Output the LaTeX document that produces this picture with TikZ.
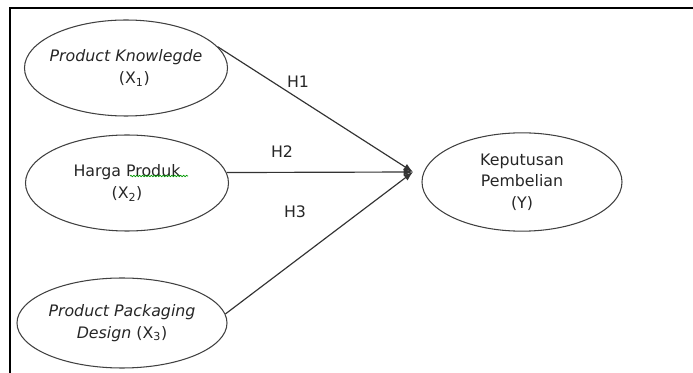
\documentclass[tikz,border=0pt]{standalone}
\usepackage{fontspec}
\setmainfont{DejaVu Sans}
\usepackage{tikz}
\usetikzlibrary{arrows.meta, positioning, shapes.geometric, decorations.pathmorphing}

\begin{document}
\begin{tikzpicture}[
    x=0.03cm, y=-0.03cm,
    every node/.style={font=\fontsize{13.5}{18.5}\selectfont, text=black!85},
    var/.style={draw=black!75, line width=0.9pt, ellipse, inner xsep=-0.5cm, inner ysep=0pt, minimum width=6.09cm, minimum height=2.88cm, align=center},
    path/.style={-{Latex[length=8pt, width=6pt]}, line width=1pt, black!80},
    hyp/.style={font=\fontsize{13.5}{16}\selectfont},
]
\useasboundingbox (0,0) rectangle (693,373);

% === Frame ===
\draw[line width=1.8pt] (693,8) -- (10,8) -- (10,373);

% === Independent variables ===
\node[var] (e1) at (126,68) {\textit{Product Knowlegde}\\\hspace*{0.5cm}(X\textsubscript{1})};
\node[var] (e2) at (127,183) {Harga Produk\\(X\textsubscript{2})};
\node[var, minimum width=6.3cm, minimum height=2.7cm] (e3) at (122,323) {\textit{Product Packaging}\\\textit{Design} (X\textsubscript{3})};

% === Dependent variable ===
\node[var, minimum width=6.0cm, minimum height=2.95cm] (ey) at (522,182) {Keputusan\\Pembelian\\(Y)};
\coordinate (j) at (413,172);

% === Paths ===
\draw[path] (e1.13) -- (j);
\draw[path] (e2.6) -- (j);
\draw[path] (e3.5) -- (j);

\node[hyp] (h1) at (298,82) {H1};
\node[hyp] (h2) at (282,152) {H2};
\node[hyp] (h3) at (295,212) {H3};

% spell-check squiggle
\draw[green!60!black, line width=0.6pt, decorate, decoration={snake, amplitude=0.6pt, segment length=2.5pt}] (130,176) -- (188,176);

\end{tikzpicture}
\end{document}
